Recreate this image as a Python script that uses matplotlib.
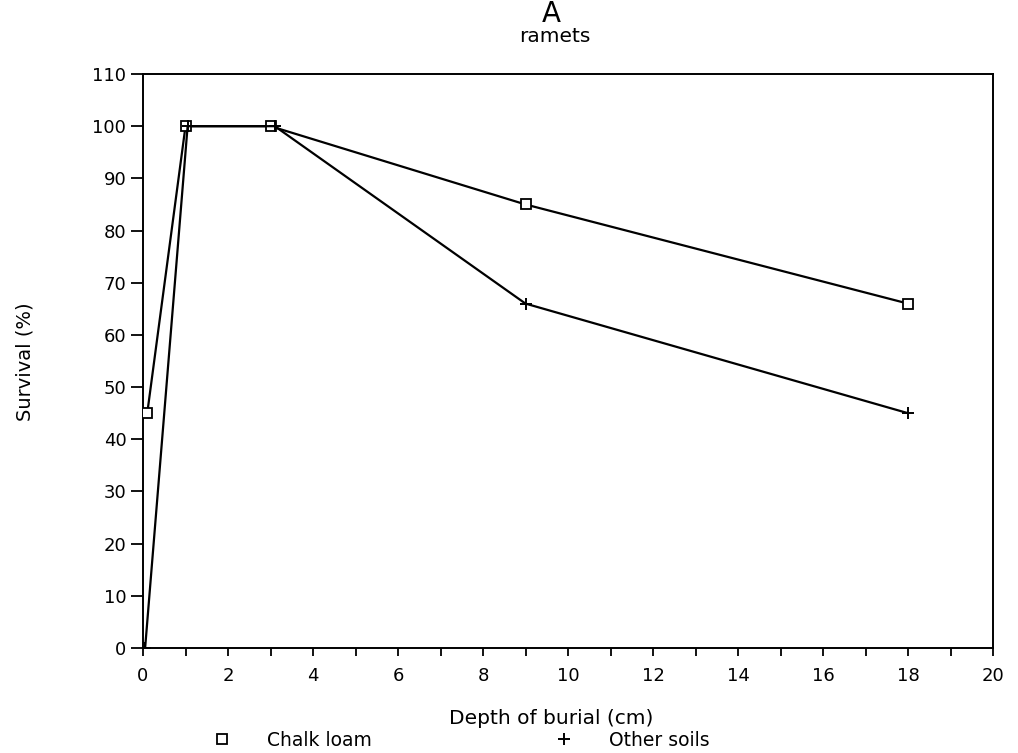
import matplotlib
matplotlib.use("Agg")
import matplotlib.pyplot as plt
from matplotlib.lines import Line2D
from matplotlib.ticker import MultipleLocator

plt.rcParams['font.family'] = ['DejaVu Sans']

# Survival of ramets by burial depth
chalk_depth = [0.1, 1.0, 3.0, 9.0, 18.0]
chalk_survival = [45, 100, 100, 85, 66]
other_depth = [0.05, 1.05, 3.1, 9.0, 18.0]
other_survival = [0, 100, 100, 66, 45]

x_ticks = [0, 2, 4, 6, 8, 10, 12, 14, 16, 18, 20]
y_ticks = [0, 10, 20, 30, 40, 50, 60, 70, 80, 90, 100, 110]

W, H = 1018, 753
fig = plt.figure(figsize=(W / 100, H / 100), dpi=100)
ax = fig.add_axes([143 / W, 105 / H, 850 / W, 574 / H])

sq_style = dict(marker='s', markersize=7, markerfacecolor='white',
                markeredgecolor='black', markeredgewidth=1.3)
plus_style = dict(marker='+', markersize=8, markeredgecolor='black',
                  markeredgewidth=1.4)

ax.plot(chalk_depth, chalk_survival, color='black', lw=1.6, zorder=3, **sq_style)
ax.plot(other_depth, other_survival, color='black', lw=1.6, zorder=3, **plus_style)

ax.set_xlim(0, 20)
ax.set_ylim(0, 110)
ax.set_xticks(x_ticks)
ax.set_yticks(y_ticks)
ax.xaxis.set_minor_locator(MultipleLocator(1))
ax.tick_params(axis='both', which='both', direction='out', width=1.3,
               labelsize=13, colors='black')
ax.tick_params(axis='x', which='major', length=6, pad=8)
ax.tick_params(axis='x', which='minor', length=6)
ax.tick_params(axis='y', which='major', length=9, pad=3)
for s in ax.spines.values():
    s.set_linewidth(1.4)

ax.set_xlabel('Depth of burial (cm)', fontsize=14.5, va='center')
ax.xaxis.set_label_coords((551 - 143) / 850, (648 - 718) / 574)
fig.text(25 / W, 1 - 362 / H, 'Survival (%)', rotation=90,
         ha='center', va='center', fontsize=14)

fig.text(551 / W, 1 - 14 / H, 'A', ha='center', va='center', fontsize=20)
fig.text(555 / W, 1 - 37 / H, 'ramets', ha='center', va='center', fontsize=14.5)

# Legend entries placed separately beneath the axis title
sq_handle = Line2D([], [], linestyle='none', **sq_style)
plus_handle = Line2D([], [], linestyle='none', **plus_style)
legend_kw = dict(loc='center left', frameon=False, fontsize=13.5,
                 handlelength=1.0, handletextpad=1.9, borderpad=0,
                 borderaxespad=0)
fig.legend([sq_handle], ['Chalk loam'],
           bbox_to_anchor=(213 / W, 1 - 740 / H), **legend_kw)
fig.legend([plus_handle], ['Other soils'],
           bbox_to_anchor=(555 / W, 1 - 740 / H), **legend_kw)

fig.savefig('out.png', dpi=100)
